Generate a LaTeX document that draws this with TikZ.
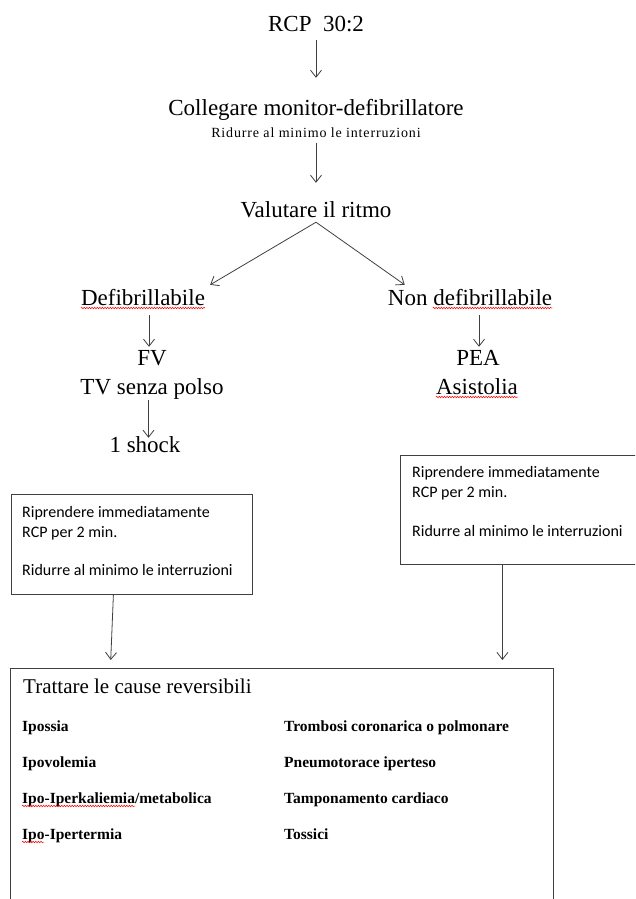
\documentclass[tikz,border=0pt]{standalone}
\usepackage{fontspec}
\setmainfont{Liberation Serif}
\newfontfamily\calibri{Carlito}
\usetikzlibrary{arrows.meta}
\usetikzlibrary{decorations.pathmorphing}

\definecolor{linegray}{HTML}{404040}

\tikzset{
	big/.style={inner sep=0, font=\fontsize{23}{27}\selectfont, text height=16pt, text depth=5pt},
	note/.style={inner sep=0, font=\fontsize{14}{17}\selectfont\addfontfeature{LetterSpace=6}, text height=10pt, text depth=4pt},
	boxtext/.style={inner sep=0, anchor=base west, font=\calibri\fontsize{16}{20}\selectfont},
	title/.style={inner sep=0, anchor=base west, font=\fontsize{21}{25}\selectfont},
	cause/.style={inner sep=0, anchor=base west, font=\fontsize{15.5}{19}\selectfont\bfseries},
	panel/.style={draw=linegray, line width=0.8pt, anchor=north west, inner sep=0},
	arr/.style={draw=linegray, line width=0.8pt, -{Straight Barb[length=7pt, width=11pt]}},
	squig/.style={draw=red, line width=0.5pt, decorate, decoration={snake, amplitude=0.8pt, segment length=2.6pt}}
}

\begin{document}
\begin{tikzpicture}[x=1pt, y=-1pt]
	\useasboundingbox (0,0) rectangle (635,899);
	\clip (0,0) rectangle (635,899);
	\fill[white] (0,0) rectangle (635,899);

	% --- top chain ---
	\node[big, anchor=base] (rcp) at (316,32) {RCP\ \ 30:2};
	\node[big, anchor=base] (coll) at (316,115) {Collegare monitor-defibrillatore};
	\node[note, anchor=base] (ridurre) at (316,137) {Ridurre al minimo le interruzioni};
	\node[big, anchor=base] (ritmo) at (316,217) {Valutare il ritmo};

	% --- the two rhythms ---
	\node[big, anchor=base] (defib) at (143,305) {Defibrillabile};
	\node[big, anchor=base] (nondef) at (470,305) {Non defibrillabile};
	\node[big, anchor=base] (fv) at (152,365) {FV};
	\node[big, anchor=base] (tv) at (152,394) {TV senza polso};
	\node[big, anchor=base] (shock) at (145,452) {1 shock};
	\node[big, anchor=base] (pea) at (478,365) {PEA};
	\node[big, anchor=base] (asist) at (477,394) {Asistolia};

	% --- boxes ---
	\node[panel, minimum width=241, minimum height=100] (boxL) at (11,494) {};
	\node[boxtext] (boxLa) at ([xshift=11pt, yshift=-23pt]boxL.north west) {Riprendere immediatamente};
	\node[boxtext] (boxLb) at ([xshift=11pt, yshift=-43pt]boxL.north west) {RCP per 2 min.};
	\node[boxtext] (boxLc) at ([xshift=11pt, yshift=-81pt]boxL.north west) {Ridurre al minimo le interruzioni};

	\node[panel, minimum width=250, minimum height=109] (boxR) at (400,455) {};
	\node[boxtext] (boxRa) at ([xshift=12pt, yshift=-22pt]boxR.north west) {Riprendere immediatamente};
	\node[boxtext] (boxRb) at ([xshift=12pt, yshift=-42pt]boxR.north west) {RCP per 2 min.};
	\node[boxtext] (boxRc) at ([xshift=12pt, yshift=-81pt]boxR.north west) {Ridurre al minimo le interruzioni};

	% --- reversible causes ---
	\node[panel, minimum width=543, minimum height=260] (causes) at (10,668) {};
	\node[title] (tratt) at ([xshift=13pt, yshift=-25pt]causes.north west) {Trattare le cause reversibili};
	\foreach \txt [count=\i] in {Ipossia, Ipovolemia, Ipo-Iperkaliemia/metabolica, Ipo-Ipertermia}
		\node[cause] (sx\i) at ([xshift=12pt, yshift=-27pt-36pt*\i]causes.north west) {\txt};
	\foreach \txt [count=\i] in {Trombosi coronarica o polmonare, Pneumotorace iperteso, Tamponamento cardiaco, Tossici}
		\node[cause] (dx\i) at ([xshift=274pt, yshift=-27pt-36pt*\i]causes.north west) {\txt};

	% --- arrows ---
	\draw[arr, shorten <=3pt, shorten >=21pt] (rcp.south) -- (coll.north);
	\draw[arr, shorten <=2pt, shorten >=18pt] (ridurre.south) -- (ritmo.north);
	\draw[arr] (ritmo.south) -- ([xshift=5pt, yshift=4pt]defib.north east);
	\draw[arr] (ritmo.south) -- ([xshift=17pt, yshift=4pt]nondef.north west);
	\draw[arr, shorten <=5pt, shorten >=2pt] ([xshift=6pt]defib.south) -- ([xshift=-3pt]fv.north);
	\draw[arr, shorten <=1pt, shorten >=-2pt] ([xshift=-3.5pt]tv.south) -- ([xshift=3.5pt]shock.north);
	\draw[arr, shorten <=5pt, shorten >=2pt] ([xshift=9pt]nondef.south) -- ([xshift=1pt]pea.north);
	\draw[arr, shorten >=8pt] ([xshift=-18.5pt]boxL.south) -- ([xshift=-171.5pt]causes.north);
	\draw[arr, shorten >=8pt] ([xshift=-23pt]boxR.south) -- ([xshift=220.5pt]causes.north);

	% spell-check marks
	\draw[squig] ([yshift=-3pt]defib.base west) -- ([yshift=-3pt]defib.base east);
	\draw[squig] ([xshift=45pt, yshift=-3pt]nondef.base west) -- ([yshift=-3pt]nondef.base east);
	\draw[squig] ([yshift=-3pt]asist.base west) -- ([yshift=-3pt]asist.base east);
	\draw[squig] ([yshift=-3pt]sx3.base west) -- ([xshift=113pt, yshift=-3pt]sx3.base west);
	\draw[squig] ([yshift=-3pt]sx4.base west) -- ([xshift=22pt, yshift=-3pt]sx4.base west);
\end{tikzpicture}
\end{document}
